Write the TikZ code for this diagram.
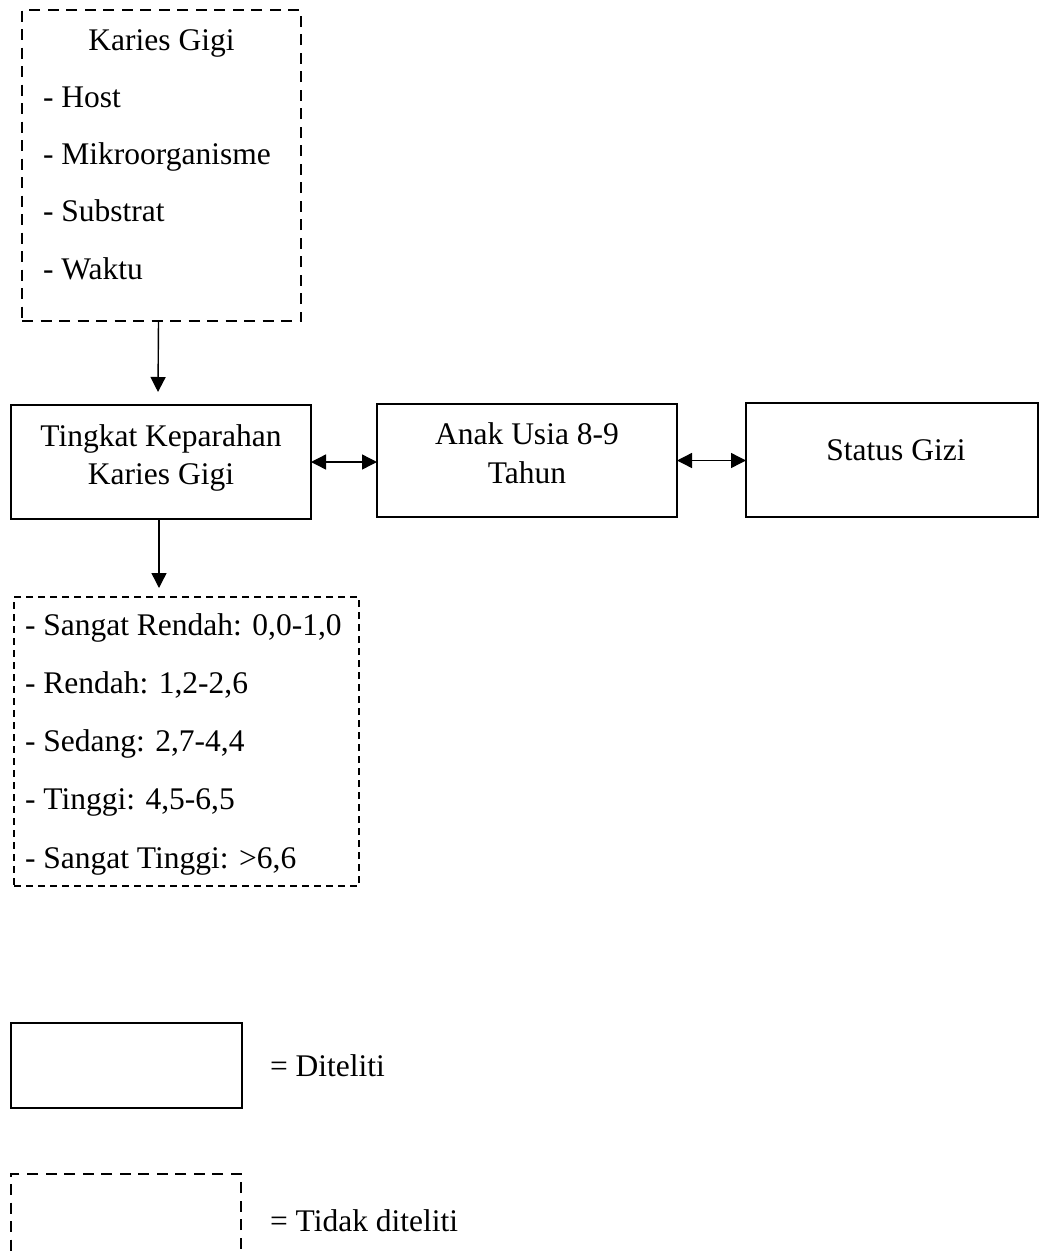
\documentclass[tikz,border=0pt]{standalone}
\usepackage{fontspec}
\setmainfont{Liberation Serif}
\usetikzlibrary{arrows.meta}
\begin{document}
\begin{tikzpicture}[x=1pt,y=-1pt,
  every node/.style={inner sep=0pt, outer sep=0pt, font=\fontsize{31.5}{38.5}\selectfont},
  solidbox/.style={draw, line width=2.4pt, rectangle},
  dashbox/.style={draw, line width=2.6pt, dash pattern=on 11pt off 7.5pt},
  finedash/.style={draw, line width=1.6pt, dash pattern=on 7pt off 5pt},
  tip/.style={Triangle[length=15pt,width=15pt]},
  arr/.style={line width=1.4pt, -{Triangle[length=15pt,width=15pt]}},
  dblarr/.style={line width=1.4pt, {Triangle[length=15pt,width=15pt]}-{Triangle[length=15pt,width=15pt]}},
  txt/.style={anchor=base west},
  ctxt/.style={anchor=base}
]
\useasboundingbox (0,0) rectangle (1040,1256);
\clip (0,0) rectangle (1040,1256);

% factors causing caries (not studied)
\node[dashbox, minimum width=279pt, minimum height=311pt] (karies) at (161.5,165.5) {};
\node[ctxt] (kTitle) at (161.5,50) {Karies Gigi};
\node[txt] (kHost) at (43,107) {- Host};
\node[txt] (kMikro) at (43,164.3) {- Mikroorganisme};
\node[txt] (kSub) at (43,221.6) {- Substrat};
\node[txt] (kWaktu) at (43,279) {- Waktu};

% studied variables
\node[solidbox, minimum width=300pt, minimum height=114pt] (tingkat) at (161,462) {};
\node[ctxt] (t1) at (161,446) {Tingkat Keparahan};
\node[ctxt] (t2) at (161,484) {Karies Gigi};

\node[solidbox, minimum width=300pt, minimum height=113pt] (anak) at (527,460.5) {};
\node[ctxt] (a1) at (527,444) {Anak Usia 8-9};
\node[ctxt] (a2) at (527,483) {Tahun};

\node[solidbox, minimum width=292pt, minimum height=114pt] (status) at (892,460) {};
\node[ctxt] (s1) at (896,460) {Status Gizi};

% severity categories (not studied)
\node[finedash, minimum width=345pt, minimum height=289pt] (lower) at (186.5,741.5) {};
\node[txt] (c1) at (25,635) {- Sangat Rendah: 0,0-1,0};
\node[txt] (c2) at (25,693.3) {- Rendah: 1,2-2,6};
\node[txt] (c3) at (25,751.5) {- Sedang: 2,7-4,4};
\node[txt] (c4) at (25,809.8) {- Tinggi: 4,5-6,5};
\node[txt] (c5) at (25,868) {- Sangat Tinggi: >6,6};

% connectors
\draw[arr] ([xshift=-3pt]karies.south) -- ([xshift=-3pt,yshift=13pt]tingkat.north);
\coordinate (lowTip) at ([yshift=9pt]lower.north -| tingkat.south);
\draw[arr] ([xshift=-2pt]tingkat.south) -- ([xshift=-2pt]lowTip);
\draw[dblarr] (tingkat.east) -- (tingkat.east -| anak.west);
\draw[dblarr] (anak.east) -- (anak.east -| status.west);

% legend
\node[solidbox, minimum width=231pt, minimum height=85pt] (legSolid) at (126.5,1065.5) {};
\node[txt] (legSolidText) at (270,1076) {= Diteliti};
\node[dashbox, minimum width=230pt, minimum height=85pt] (legDash) at (126,1216.5) {};
\node[txt] (legDashText) at (270,1231) {= Tidak diteliti};
\end{tikzpicture}
\end{document}
